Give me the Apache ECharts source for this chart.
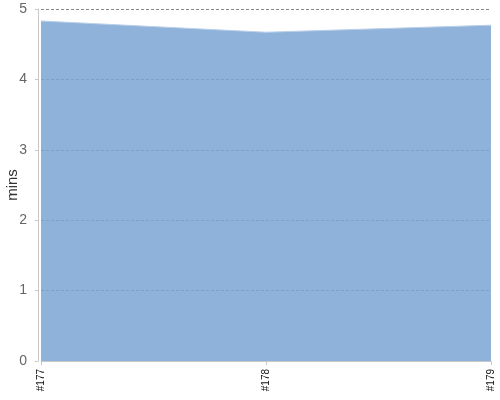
<!DOCTYPE html>
<html>
<head>
<meta charset="utf-8">
<script src="https://cdn.jsdelivr.net/npm/echarts@6/dist/echarts.min.js"></script>
<style>
  html, body { margin: 0; padding: 0; background: #fff; }
  #grafico { width: 500px; height: 400px; }
</style>
</head>
<body>
<div id="grafico"></div>
<script>
// builds y tiempos (minutos)
const builds = ['#177', '#178', '#179'];
const minutos = [4.83, 4.67, 4.77];
const yTicks = [0, 1, 2, 3, 4, 5];

let grafico = document.getElementById('grafico');
let myChart = echarts.init(grafico);

let options = {
    animation: false,
    grid: { left: 41, right: 9, top: 9, bottom: 39, containLabel: false, outerBoundsMode: 'none' },
    xAxis: {
        type: 'category',
        data: builds,
        boundaryGap: false,
        offset: 3,
        axisLine: { lineStyle: { color: '#c8c8c8', width: 1 } },
        axisTick: { alignWithLabel: true, length: 4, lineStyle: { color: '#c8c8c8' } },
        axisLabel: {
            rotate: 90,
            fontSize: 10,
            color: '#111',
            fontFamily: 'Liberation Sans',
            margin: 5
        },
        splitLine: { show: false }
    },
    yAxis: {
        type: 'value',
        min: yTicks[0],
        max: yTicks[yTicks.length - 1],
        interval: 1,
        offset: 3,
        name: 'mins',
        nameLocation: 'middle',
        nameGap: 18,
        nameMoveOverlap: false,
        nameTextStyle: { fontSize: 15, color: '#333', fontFamily: 'Liberation Sans' },
        axisLine: { show: true, lineStyle: { color: '#c8c8c8', width: 1 } },
        axisTick: { show: true, length: 3, lineStyle: { color: '#c8c8c8' } },
        axisLabel: { fontSize: 14, color: '#666', fontFamily: 'Liberation Sans', margin: 11 },
        splitLine: { show: true, lineStyle: { color: '#888', type: [3, 2], width: 1 } }
    },
    series: [{
        type: 'line',
        data: minutos,
        symbol: 'none',
        lineStyle: { color: '#b9cfe8', width: 1 },
        areaStyle: { color: '#7aa4d3', opacity: 0.85 },
        z: 1
    }]
};
myChart.setOption(options);
</script>
</body>
</html>
